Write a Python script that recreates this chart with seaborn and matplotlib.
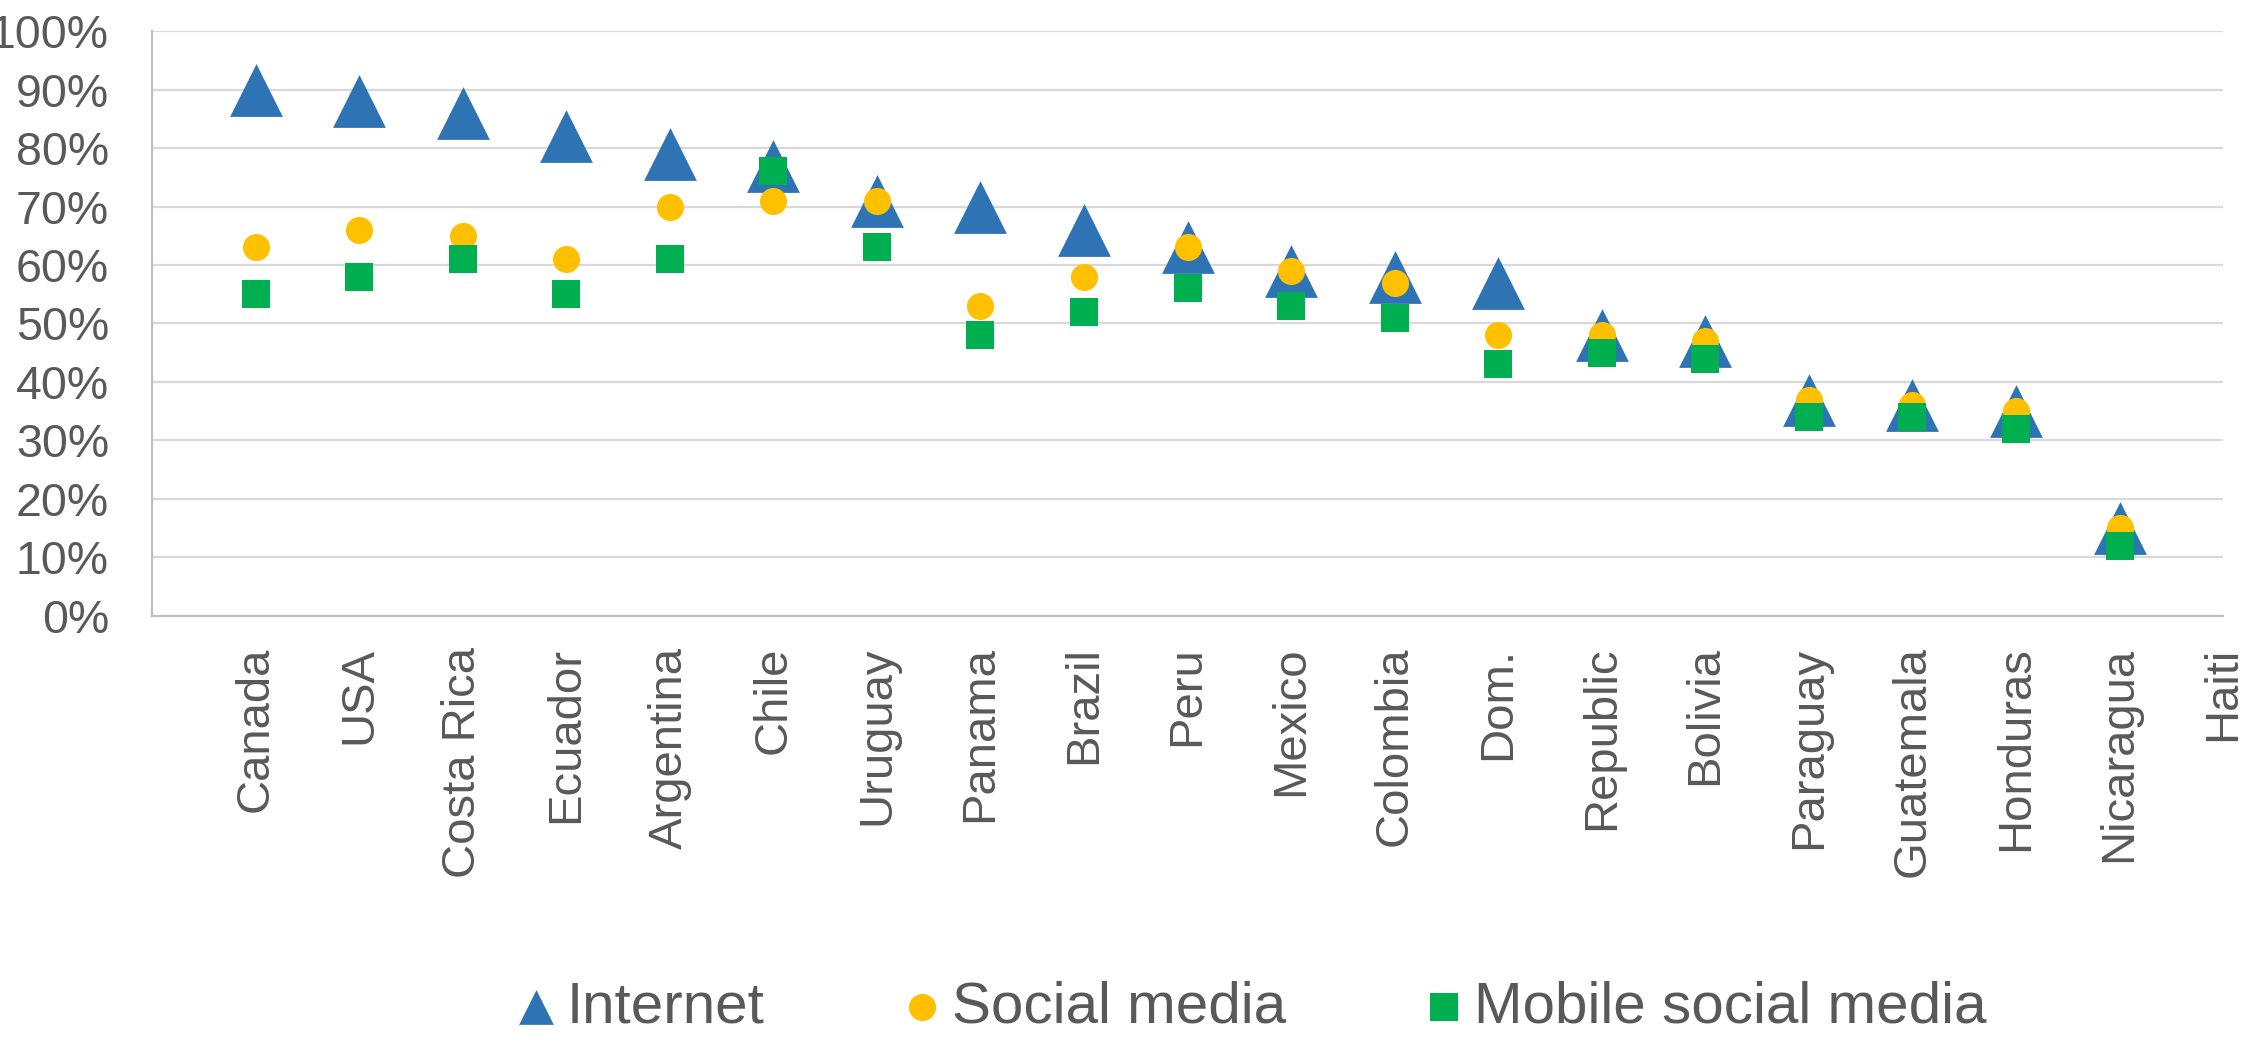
import numpy as np
import pandas as pd
import seaborn as sns
import matplotlib.pyplot as plt
from matplotlib.ticker import PercentFormatter

# data (share of population)
countries = ["Canada", "USA", "Costa Rica", "Ecuador", "Argentina", "Chile", "Uruguay",
             "Panama", "Brazil", "Peru", "Mexico", "Colombia", "Dom.", "Republic",
             "Bolivia", "Paraguay", "Guatemala", "Honduras", "Nicaragua", "Haiti"]
internet = [90, 88, 86, 82, 79, 77, 71, 70, 66, 63, 59, 58, 57, 48, 47, 37, 36, 35, 15, np.nan]
social = [63, 66, 65, 61, 70, 71, 71, 53, 58, 63, 59, 57, 48, 48, 47, 37, 36, 35, 15, np.nan]
mobile = [55, 58, 61, 55, 61, 76, 63, 48, 52, 56, 53, 51, 43, 45, 44, 34, 34, 32, 12, np.nan]

df = pd.DataFrame({"pos": np.arange(len(countries)),
                   "country": countries,
                   "Internet": np.array(internet) / 100,
                   "Social media": np.array(social) / 100,
                   "Mobile social media": np.array(mobile) / 100})

sns.set_theme(style="white")
plt.rcParams["font.family"] = ["Liberation Sans", "DejaVu Sans"]

text_col = "#595959"
fig = plt.figure(figsize=(22.46, 10.41), dpi=100)
ax = fig.add_axes([0.0677, 0.4083, 0.9221, 0.5619])

# triangles first, squares on top
sns.scatterplot(data=df, x="pos", y="Internet", marker="^", s=38 ** 2, color="#2E74B5",
                linewidth=0, label="Internet", ax=ax, zorder=3)
sns.scatterplot(data=df, x="pos", y="Social media", marker="o", s=19.5 ** 2, color="#FFC000",
                linewidth=0, label="Social media", ax=ax, zorder=4)
sns.scatterplot(data=df, x="pos", y="Mobile social media", marker="s", s=19.5 ** 2, color="#00B050",
                linewidth=0, label="Mobile social media", ax=ax, zorder=5)

ax.set_xlim(-1, len(countries) - 1)
ax.set_ylim(0, 1)
ax.set_yticks(np.arange(0, 1.01, 0.1))
ax.yaxis.set_major_formatter(PercentFormatter(1.0, decimals=0))
ax.set_xticks(df["pos"])
ax.set_xticklabels(countries, rotation=90)
ax.set_xlabel("")
ax.set_ylabel("")

ax.grid(axis="y", color="#d9d9d9", linewidth=1.6, zorder=0)
ax.set_axisbelow(True)
for side in ["top", "right"]:
    ax.spines[side].set_visible(False)
for side in ["left", "bottom"]:
    ax.spines[side].set_color("#bfbfbf")
    ax.spines[side].set_linewidth(1.6)

ax.tick_params(axis="y", length=0, pad=31, labelsize=33.5, labelcolor=text_col)
ax.tick_params(axis="x", length=0, pad=22, labelsize=34, labelcolor=text_col)

handles, labels = ax.get_legend_handles_labels()
ax.get_legend().remove()
leg = fig.legend(handles, labels, loc="center", bbox_to_anchor=(0.5563, 0.032), ncol=3,
                 frameon=False, fontsize=42, labelcolor=text_col,
                 handlelength=0.8, handletextpad=0.12, columnspacing=2.3,
                 borderpad=0, borderaxespad=0)
for h, sz in zip(leg.legend_handles, [25, 19.5, 19.5]):
    h.set_sizes([sz ** 2])

fig.savefig("out.png", dpi=100)
